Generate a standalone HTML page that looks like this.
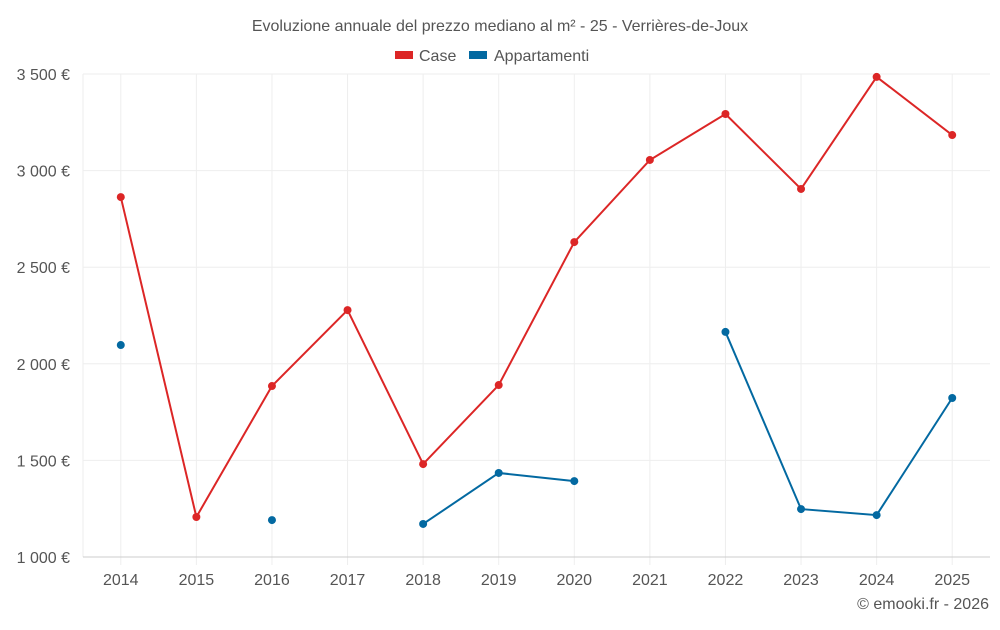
<!DOCTYPE html>
<html><head><meta charset="utf-8">
<style>
body{margin:0;background:#fff;font-family:"Liberation Sans",sans-serif;}
svg text{font-family:"Liberation Sans",sans-serif;fill:#555;}
</style></head>
<body>
<svg id="c" width="1000" height="625">
<text x="500" y="31" text-anchor="middle" font-size="16">Evoluzione annuale del prezzo mediano al m² - 25 - Verrières-de-Joux</text>
<g>
<g><rect x="395" y="51" width="18" height="8" fill="#dc2626"/><text x="419" y="61" font-size="16">Case</text></g>
<g><rect x="469" y="51" width="18" height="8" fill="#0369a1"/><text x="494" y="61" font-size="16">Appartamenti</text></g>
</g>
<g id="grid"></g>
<g id="axes"></g>
<g id="series"></g>
<text x="989" y="609" text-anchor="end" font-size="16">© emooki.fr - 2026</text>
</svg>
<script>
const years=[2014,2015,2016,2017,2018,2019,2020,2021,2022,2023,2024,2025];
const caseVals=[2863,1207,1885,2278,1481,1890,2630,3055,3293,2905,3485,3184];
const appVals=[2097,null,1191,null,1171,1435,1393,null,2165,1248,1217,1823];
const yTicks=[1000,1500,2000,2500,3000,3500];
const yLabels=["1 000 €","1 500 €","2 000 €","2 500 €","3 000 €","3 500 €"];
const L=83,R=990,T=74,B=557,ymin=1000,ymax=3500;
const step=(R-L)/years.length;
const xs=i=>L+step*(i+0.5);
const ys=v=>B-(v-ymin)/(ymax-ymin)*(B-T);
const NS="http://www.w3.org/2000/svg";
function mk(tag,attrs,parent){const e=document.createElementNS(NS,tag);for(const k in attrs)e.setAttribute(k,attrs[k]);parent.appendChild(e);return e;}
const grid=document.getElementById('grid'),axes=document.getElementById('axes'),ser=document.getElementById('series');
const lx=mk('line',{x1:L,x2:L,y1:T,y2:B,stroke:'#eee'},grid);


years.forEach((y,i)=>{
 const l=mk('line',{x1:xs(i),x2:xs(i),y1:T,y2:B+8,stroke:'#eee'},grid);
 
 
 const tx=mk('text',{x:xs(i),y:585,'text-anchor':'middle','font-size':'16'},axes);
 tx.textContent=y;
 
 
});
yTicks.forEach((t,i)=>{
 const l=mk('line',{x1:L,x2:R,y1:ys(t),y2:ys(t),stroke:i===0?'#ccc':'#eee'},grid);
 
 
 const tx=mk('text',{x:70,y:ys(t)+6,'text-anchor':'end','font-size':'16'},axes);
 tx.textContent=yLabels[i];
 
 
});
function draw(vals,color,name){
 let segs=[],cur=[];
 vals.forEach((v,i)=>{if(v==null){if(cur.length)segs.push(cur);cur=[];}else cur.push([xs(i),ys(v)]);});
 if(cur.length)segs.push(cur);
 segs.forEach(s=>{if(s.length>1){
  const p=mk('polyline',{points:s.map(q=>q.join(',')).join(' '),fill:'none',stroke:color,'stroke-width':2},ser);
  
  
 }});
 vals.forEach((v,i)=>{if(v==null)return;
  const c=mk('circle',{cx:xs(i),cy:ys(v),r:4,fill:color},ser);
  
  
 });
}
draw(caseVals,'#dc2626','case');
draw(appVals,'#0369a1','appartamenti');
</script>
</body></html>
